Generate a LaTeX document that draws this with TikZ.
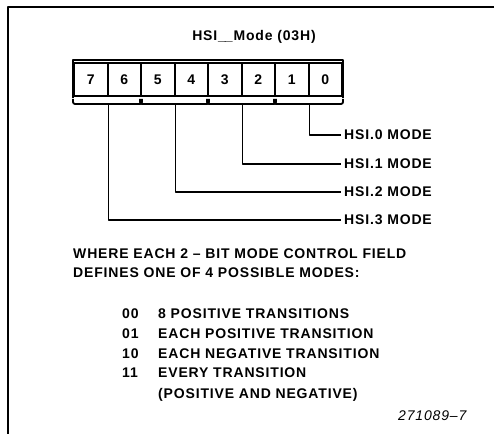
\documentclass[tikz,border=0pt]{standalone}
\usepackage{fontspec}
\setmainfont{Liberation Sans}[LetterSpace=6]
\usetikzlibrary{positioning,calc}

\begin{document}
\begin{tikzpicture}[x=1bp, y=1bp, line join=bevel,
    every node/.style={font=\bfseries\fontsize{14bp}{16bp}\selectfont, inner sep=0pt},
    bit/.style={draw, line width=2bp, minimum width=33.5bp, minimum height=33bp},
    wire/.style={line width=1.8bp},
    lbl/.style={anchor=west, inner xsep=3bp},
    txt/.style={anchor=base west}]
  \useasboundingbox (0,0) rectangle (495,-434);
  % Frame
  \draw[wire] (494,-7) -- (8,-7) -- (8,-434);

  % Title
  \node (title) at (254,-37) {HSI\_\kern-1bp\_Mode (03H)};

  % Bits
  \node[bit] (b7) at (90.75,-79.5) {7};
  \node[bit] (b6) at (124.25,-79.5) {6};
  \node[bit] (b5) at (157.75,-79.5) {5};
  \node[bit] (b4) at (191.25,-79.5) {4};
  \node[bit] (b3) at (224.75,-79.5) {3};
  \node[bit] (b2) at (258.25,-79.5) {2};
  \node[bit] (b1) at (291.75,-79.5) {1};
  \node[bit] (b0) at (325.25,-79.5) {0};
  \draw[line width=2.6bp] ([yshift=-1bp]b7.south west) |- ([yshift=2bp]b0.north east) -- ([yshift=-1bp]b0.south east);

  % Fields
  \draw[wire, rounded corners=2bp] ([yshift=-2bp]b7.south west) |- ([yshift=-7bp]b6.south east) -- ([yshift=-2bp]b6.south east);
  \draw[wire, rounded corners=2bp] ([yshift=-2bp]b5.south west) |- ([yshift=-7bp]b4.south east) -- ([yshift=-2bp]b4.south east);
  \draw[wire, rounded corners=2bp] ([yshift=-2bp]b3.south west) |- ([yshift=-7bp]b2.south east) -- ([yshift=-2bp]b2.south east);
  \draw[wire, rounded corners=2bp] ([yshift=-2bp]b1.south west) |- ([yshift=-7bp]b0.south east) -- ([yshift=-2bp]b0.south east);
  \coordinate (f3) at ([yshift=-7bp]b7.south east);
  \coordinate (f2) at ([yshift=-7bp]b5.south east);
  \coordinate (f1) at ([yshift=-7bp]b3.south east);
  \coordinate (f0) at ([yshift=-7bp]b1.south east);

  % Mode labels
  \node[lbl] (m0) at (341,-135) {HSI.0 MODE};
  \node[lbl] (m1) at (341,-164) {HSI.1 MODE};
  \node[lbl] (m2) at (341,-192) {HSI.2 MODE};
  \node[lbl] (m3) at (341,-220) {HSI.3 MODE};

  % Edges
  \draw[wire] (f0) |- (m0);
  \draw[wire] (f1) |- (m1);
  \draw[wire] (f2) |- (m2);
  \draw[wire] (f3) |- (m3);

  % Notes
  \node[txt] (where) at (73,-258) {WHERE EACH 2 -- BIT MODE CONTROL FIELD};
  \node[txt] (defines) at (73,-277) {DEFINES ONE OF 4 POSSIBLE MODES:};

  \node[txt] (c00) at (122,-318) {00};
  \node[txt] (c01) at (122,-338) {01};
  \node[txt] (c10) at (122,-358) {10};
  \node[txt] (c11) at (122,-377) {11};
  \node[txt] (t00) at (158,-318) {8 POSITIVE TRANSITIONS};
  \node[txt] (t01) at (158,-338) {EACH POSITIVE TRANSITION};
  \node[txt] (t10) at (158,-358) {EACH NEGATIVE TRANSITION};
  \node[txt] (t11) at (158,-377) {EVERY TRANSITION};
  \node[txt] (t11b) at (158,-398) {(POSITIVE AND NEGATIVE)};

  \node[txt, font=\mdseries\itshape\fontsize{14bp}{16bp}\selectfont] (fig) at (398,-420) {271089--7};
\end{tikzpicture}
\end{document}
